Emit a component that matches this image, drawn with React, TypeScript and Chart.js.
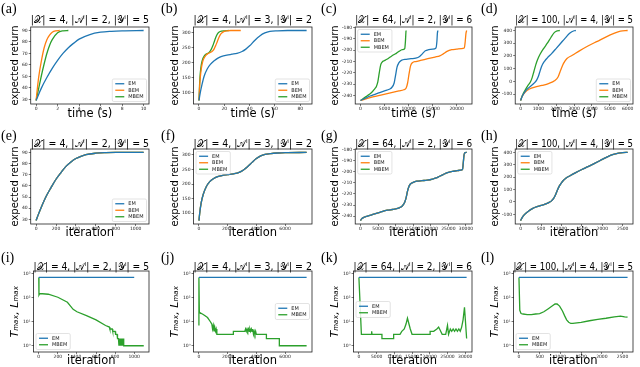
import React, { useEffect, useRef } from 'react';
import { Chart, registerables } from 'chart.js';
Chart.register(...registerables);

const C_EM = '#1f77b4';
const C_BEM = '#ff7f0e';
const C_MBEM = '#2ca02c';

const TITLE_A = '|𝒳| = 4, |𝒜ⁱ| = 2, |𝒴ⁱ| = 5';
const TITLE_B = '|𝒳| = 4, |𝒜ⁱ| = 3, |𝒴ⁱ| = 2';
const TITLE_C = '|𝒳| = 64, |𝒜ⁱ| = 2, |𝒴ⁱ| = 6';
const TITLE_D = '|𝒳| = 100, |𝒜ⁱ| = 4, |𝒴ⁱ| = 5';

// ---- (a) time ----
const A_EM_X = [0, 0.5, 1, 1.5, 2, 2.5, 3, 3.5, 4, 5, 6, 7, 8, 10];
const A_EM_Y = [29, 40, 49, 57, 64, 70, 75, 79, 82.5, 86.5, 88.5, 89.3, 89.7, 90];
const A_BEM_X = [0, 0.1, 0.25, 0.5, 0.75, 1, 1.25, 1.5, 1.8, 2.2];
const A_BEM_Y = [29, 38, 50, 64, 75, 82, 86, 88.5, 89.7, 90];
const A_MBEM_X = [0, 0.25, 0.5, 0.75, 1, 1.25, 1.5, 2, 2.5, 3.0];
const A_MBEM_Y = [29, 40, 51, 61, 70, 77, 82, 88, 89.7, 90];
// ---- (b) time ----
const B_EM_X = [0, 1, 2.5, 4, 6.5, 9, 12, 15, 18, 22, 26, 30, 34, 37, 40, 44, 48, 52, 56, 62, 70, 85];
const B_EM_Y = [75, 100, 130, 155, 180, 195, 207, 216, 222, 226, 229, 232, 238, 246, 257, 275, 290, 300, 305, 307, 308, 308];
const B_BEM_X = [0, 0.5, 1, 2, 3, 4, 5, 6, 7, 8, 9, 10, 11, 12, 13, 14, 15, 16, 17, 18, 20, 22, 25, 33];
const B_BEM_Y = [75, 120, 150, 185, 205, 216, 223, 228, 231, 233, 235, 237, 241, 247, 256, 266, 277, 287, 295, 300, 305, 307, 308, 308];
const B_MBEM_X = [0, 0.5, 1, 2, 3, 4, 5, 6, 7, 8, 9, 10, 11, 12, 13, 14, 15, 16, 18, 20, 23.5];
const B_MBEM_Y = [75, 130, 165, 198, 214, 222, 227, 230, 232, 235, 240, 248, 258, 270, 282, 292, 299, 303, 306, 307, 308];
// ---- (c) time ----
const C_EM_X = [0, 1000, 2000, 3000, 4000, 5000, 6000, 6500, 7000, 7300, 7600, 8000, 8500, 9500, 10500, 11500, 12300, 12900, 13500, 14200, 15000, 15700, 15900, 16000, 16100];
const C_EM_Y = [-244.5, -242.5, -240.5, -239, -237.5, -236, -234.5, -233, -229, -222, -215, -211, -209, -208, -207.5, -207, -205.5, -203, -200.5, -199.5, -199, -198, -192, -185, -182.5];
const C_BEM_X = [0, 2000, 4000, 6000, 8000, 9000, 9500, 9800, 10100, 10400, 10800, 11500, 12500, 14000, 15500, 16500, 17300, 18000, 19000, 20000, 21000, 21600, 21800, 21950, 22100];
const C_BEM_Y = [-244.5, -242, -240, -238, -236, -235, -233.5, -229, -221, -214, -211, -210, -209, -207.5, -206, -205, -203, -201, -199.5, -199, -198.5, -198, -192, -185, -182.5];
const C_MBEM_X = [0, 500, 1000, 1500, 2000, 2500, 3000, 3300, 3600, 3900, 4200, 4500, 4800, 5500, 6200, 6900, 7500, 8000, 8700, 9200, 9350, 9450, 9500];
const C_MBEM_Y = [-244.5, -243, -241.5, -240, -238.5, -236.5, -234, -232, -228, -220, -213, -210.5, -209.5, -208, -206, -204, -202.5, -201, -199.5, -198.5, -192, -184, -182.5];
// ---- (d) time ----
const D_EM_X = [0, 100, 250, 500, 750, 900, 1000, 1100, 1200, 1350, 1500, 1750, 2000, 2250, 2500, 2750, 3000, 3100];
const D_EM_Y = [-150, -115, -80, -45, -15, 10, 40, 85, 125, 160, 185, 220, 260, 300, 340, 378, 398, 400];
const D_BEM_X = [0, 100, 250, 500, 800, 1200, 1600, 1900, 2100, 2250, 2400, 2600, 2900, 3300, 3800, 4300, 4800, 5200, 5600, 6000];
const D_BEM_Y = [-150, -115, -85, -60, -45, -32, -15, 5, 35, 90, 140, 180, 205, 240, 280, 315, 350, 375, 395, 400];
const D_MBEM_X = [0, 100, 250, 400, 550, 650, 750, 850, 950, 1100, 1300, 1500, 1700, 1900, 2050, 2200];
const D_MBEM_Y = [-150, -110, -70, -35, -5, 30, 80, 130, 170, 215, 260, 300, 345, 385, 398, 400];
// ---- (e)-(h) iteration (all three methods coincide) ----
const E_X = [0, 25, 50, 100, 150, 200, 250, 300, 350, 400, 450, 500, 600, 700, 800, 1080];
const E_Y = [29, 35, 40.5, 50.5, 58.5, 66, 72, 77.5, 81.5, 84.5, 86.5, 88, 89.3, 89.8, 90, 90];
const F_X = [0, 50, 150, 300, 500, 750, 1000, 1300, 1600, 2000, 2400, 2800, 3100, 3400, 3700, 4000, 4300, 4600, 5000, 5500, 6000, 7500];
const F_Y = [75, 100, 135, 165, 190, 208, 218, 225, 229, 232, 235, 240, 248, 260, 274, 287, 296, 301, 304, 306, 307, 308];
const G_X = [0, 300, 1000, 2000, 3000, 4000, 5000, 6000, 7000, 8000, 9000, 10000, 11000, 11800, 12500, 13000, 13400, 13800, 14200, 15000, 16000, 17500, 19000, 20500, 21500, 22500, 23500, 24500, 25500, 26500, 27500, 28500, 29000, 29200, 29400, 29600, 30200];
const G_Y = [-244, -242.5, -241, -240, -239, -238, -237, -236, -235, -234.5, -234, -233.5, -232.5, -231, -228, -223, -217, -213, -211, -209.5, -208.5, -208, -207.5, -206.5, -205.5, -204, -202.5, -201, -200, -199.5, -199, -198.5, -198, -193, -186, -183, -182.5];
const H_X = [0, 50, 100, 200, 300, 400, 500, 600, 700, 750, 800, 850, 900, 950, 1000, 1050, 1100, 1200, 1350, 1500, 1650, 1800, 1950, 2100, 2250, 2400, 2500, 2620];
const H_Y = [-150, -120, -100, -72, -52, -38, -28, -18, -3, 7, 25, 55, 95, 130, 155, 175, 190, 210, 237, 262, 285, 310, 335, 360, 382, 395, 399, 400];
// ---- (i)-(l) Tmax, Lmax ----
const I_EM_X = [0, 1000];
const I_EM_Y = [700, 700];
const I_MBEM_X = [0, 2, 10, 100, 200, 300, 360, 400, 500, 600, 700, 740, 745, 770, 775, 800, 805, 820, 825, 835, 840, 845, 850, 855, 860, 865, 870, 875, 880, 885, 890, 1100];
const I_MBEM_Y = [700, 130, 150, 140, 105, 65, 33, 26, 18, 12, 7, 6, 5, 5, 4, 4, 3, 3, 2, 2, 1, 2, 1, 2, 1, 2, 1, 2, 1, 2, 1, 1];
const J_EM_X = [0, 7500];
const J_EM_Y = [700, 700];
const J_MBEM_X = [0, 0, 30, 60, 300, 600, 800, 900, 950, 1000, 1050, 1100, 1150, 1200, 1250, 1300, 2400, 2400, 3200, 3250, 3300, 3350, 3400, 3450, 3500, 3550, 3600, 3650, 3700, 3750, 3800, 3850, 3900, 3950, 4000, 4700, 4700, 5600, 5600, 7500];
const J_MBEM_Y = [7, 700, 25, 24, 20, 15, 10, 8, 5, 7, 4, 6, 4, 5, 3, 3, 3, 4, 4, 5, 4, 5, 4, 5, 4, 5, 4, 5, 4, 5, 3, 4, 3, 4, 3, 3, 2, 2, 1, 1];
const K_EM_X = [0, 30400];
const K_EM_Y = [700, 700];
const K_MBEM_X = [0, 700, 3500, 3600, 3700, 6500, 6500, 9800, 9800, 11600, 12100, 12800, 13300, 13700, 14500, 15000, 20100, 20100, 21100, 22000, 22500, 23500, 24500, 25000, 25300, 25800, 26200, 26600, 27000, 27400, 27800, 28200, 28600, 29000, 29400, 29800, 30400];
const K_MBEM_Y = [700, 3, 3, 4, 3, 3, 2, 2, 3, 3, 4, 5, 8, 14, 5, 3, 3, 4, 4, 5, 6, 3, 3, 7, 3, 5, 4, 5, 4, 5, 4, 5, 4, 6, 12, 40, 2];
const L_EM_X = [0, 2620];
const L_EM_Y = [700, 700];
const L_MBEM_X = [0, 20, 50, 100, 200, 300, 400, 500, 600, 700, 800, 870, 920, 980, 1050, 1100, 1150, 1200, 1250, 1300, 1400, 1500, 1700, 1900, 2100, 2300, 2450, 2550, 2620];
const L_MBEM_Y = [700, 30, 22, 21, 20, 20, 21, 22, 26, 34, 45, 55, 55, 45, 28, 18, 12, 9.5, 8.5, 8.5, 9, 9.5, 11, 12.5, 14, 16, 17, 16, 15.5];

// ---- tick labels ----
const TICKS_A_X = [0, 2, 4, 6, 8, 10];
const TICKS_A_Y = [30, 40, 50, 60, 70, 80, 90];
const TICKS_B_X = [0, 20, 40, 60, 80];
const TICKS_B_Y = [100, 150, 200, 250, 300];
const TICKS_C_X = [0, 5000, 10000, 15000, 20000];
const TICKS_C_Y = [-240, -230, -220, -210, -200, -190, -180];
const TICKS_D_X = [0, 1000, 2000, 3000, 4000, 5000, 6000];
const TICKS_D_Y = [-100, 0, 100, 200, 300, 400];
const TICKS_E_X = [0, 200, 400, 600, 800, 1000];
const TICKS_F_X = [0, 2000, 4000, 6000];
const TICKS_G_X = [0, 5000, 10000, 15000, 20000, 25000, 30000];
const TICKS_H_X = [0, 500, 1000, 1500, 2000, 2500];
const TICKS_LOG_Y = [1, 10, 100, 1000];

type Series = { label: string; color: string; x: number[]; y: number[] };
type PanelDef = {
  tag: string; row: number; col: number; title: string; xTitle: string; yTitle: string;
  log: boolean; xTicks: number[]; yTicks: number[]; series: Series[]; legend: string; smooth: boolean;
};

const s = (label: string, color: string, x: number[], y: number[]): Series => ({ label, color, x, y });
const XT = 'time (s)';
const IT = 'iteration';
const YR = 'expected return';
const YT = 'Tₘₐₓ, Lₘₐₓ';

const PANELS: PanelDef[] = [
  { tag: '(a)', row: 0, col: 0, title: TITLE_A, xTitle: XT, yTitle: YR, log: false, xTicks: TICKS_A_X, yTicks: TICKS_A_Y, legend: 'br', smooth: true,
    series: [s('EM', C_EM, A_EM_X, A_EM_Y), s('BEM', C_BEM, A_BEM_X, A_BEM_Y), s('MBEM', C_MBEM, A_MBEM_X, A_MBEM_Y)] },
  { tag: '(b)', row: 0, col: 1, title: TITLE_B, xTitle: XT, yTitle: YR, log: false, xTicks: TICKS_B_X, yTicks: TICKS_B_Y, legend: 'br', smooth: true,
    series: [s('EM', C_EM, B_EM_X, B_EM_Y), s('BEM', C_BEM, B_BEM_X, B_BEM_Y), s('MBEM', C_MBEM, B_MBEM_X, B_MBEM_Y)] },
  { tag: '(c)', row: 0, col: 2, title: TITLE_C, xTitle: XT, yTitle: YR, log: false, xTicks: TICKS_C_X, yTicks: TICKS_C_Y, legend: 'tl', smooth: true,
    series: [s('EM', C_EM, C_EM_X, C_EM_Y), s('BEM', C_BEM, C_BEM_X, C_BEM_Y), s('MBEM', C_MBEM, C_MBEM_X, C_MBEM_Y)] },
  { tag: '(d)', row: 0, col: 3, title: TITLE_D, xTitle: XT, yTitle: YR, log: false, xTicks: TICKS_D_X, yTicks: TICKS_D_Y, legend: 'br', smooth: true,
    series: [s('EM', C_EM, D_EM_X, D_EM_Y), s('BEM', C_BEM, D_BEM_X, D_BEM_Y), s('MBEM', C_MBEM, D_MBEM_X, D_MBEM_Y)] },
  { tag: '(e)', row: 1, col: 0, title: TITLE_A, xTitle: IT, yTitle: YR, log: false, xTicks: TICKS_E_X, yTicks: TICKS_A_Y, legend: 'br', smooth: true,
    series: [s('EM', C_EM, E_X, E_Y), s('BEM', C_BEM, E_X, E_Y), s('MBEM', C_MBEM, E_X, E_Y)] },
  { tag: '(f)', row: 1, col: 1, title: TITLE_B, xTitle: IT, yTitle: YR, log: false, xTicks: TICKS_F_X, yTicks: TICKS_B_Y, legend: 'tl', smooth: true,
    series: [s('EM', C_EM, F_X, F_Y), s('BEM', C_BEM, F_X, F_Y), s('MBEM', C_MBEM, F_X, F_Y)] },
  { tag: '(g)', row: 1, col: 2, title: TITLE_C, xTitle: IT, yTitle: YR, log: false, xTicks: TICKS_G_X, yTicks: TICKS_C_Y, legend: 'tl', smooth: true,
    series: [s('EM', C_EM, G_X, G_Y), s('BEM', C_BEM, G_X, G_Y), s('MBEM', C_MBEM, G_X, G_Y)] },
  { tag: '(h)', row: 1, col: 3, title: TITLE_D, xTitle: IT, yTitle: YR, log: false, xTicks: TICKS_H_X, yTicks: TICKS_D_Y, legend: 'tl', smooth: true,
    series: [s('EM', C_EM, H_X, H_Y), s('BEM', C_BEM, H_X, H_Y), s('MBEM', C_MBEM, H_X, H_Y)] },
  { tag: '(i)', row: 2, col: 0, title: TITLE_A, xTitle: IT, yTitle: YT, log: true, xTicks: TICKS_E_X, yTicks: TICKS_LOG_Y, legend: 'bl', smooth: false,
    series: [s('EM', C_EM, I_EM_X, I_EM_Y), s('MBEM', C_MBEM, I_MBEM_X, I_MBEM_Y)] },
  { tag: '(j)', row: 2, col: 1, title: TITLE_B, xTitle: IT, yTitle: YT, log: true, xTicks: TICKS_F_X, yTicks: TICKS_LOG_Y, legend: 'r', smooth: false,
    series: [s('EM', C_EM, J_EM_X, J_EM_Y), s('MBEM', C_MBEM, J_MBEM_X, J_MBEM_Y)] },
  { tag: '(k)', row: 2, col: 2, title: TITLE_C, xTitle: IT, yTitle: YT, log: true, xTicks: TICKS_G_X, yTicks: TICKS_LOG_Y, legend: 'l', smooth: false,
    series: [s('EM', C_EM, K_EM_X, K_EM_Y), s('MBEM', C_MBEM, K_MBEM_X, K_MBEM_Y)] },
  { tag: '(l)', row: 2, col: 3, title: TITLE_D, xTitle: IT, yTitle: YT, log: true, xTicks: TICKS_H_X, yTicks: TICKS_LOG_Y, legend: 'bl', smooth: false,
    series: [s('EM', C_EM, L_EM_X, L_EM_Y), s('MBEM', C_MBEM, L_MBEM_X, L_MBEM_Y)] },
];

const ROWS = [
  { top: 0, h: 120, titlePt: 14, titlePb: 1, tagY: 2, xPadTop: -3 },
  { top: 120, h: 119, titlePt: 18, titlePb: -1, tagY: 9, xPadTop: -4 },
  { top: 240, h: 127, titlePt: 21, titlePb: -2, tagY: 11, xPadTop: -4 },
];
const COL_LEFT = [0, 160, 320, 480];
const COL_PAD_R = [11, 8, 8, 7];
const SUP = ['⁰', '¹', '²', '³'];
const FONT = 'DejaVu Sans';

const framePlugin = {
  id: 'frame',
  afterDatasetsDraw(chart: any) {
    const { ctx, chartArea: a } = chart;
    ctx.save();
    ctx.strokeStyle = '#222';
    ctx.lineWidth = 0.8;
    ctx.strokeRect(a.left, a.top, a.right - a.left, a.bottom - a.top);
    ctx.restore();
  },
};

const tagPlugin = {
  id: 'tag',
  afterDraw(chart: any, _args: any, opts: any) {
    const { ctx } = chart;
    ctx.save();
    ctx.font = '14px "Liberation Serif"';
    ctx.fillStyle = '#000';
    ctx.textBaseline = 'top';
    ctx.fillText(opts.text, 1, opts.y);
    ctx.restore();
  },
};

const legendPlugin = {
  id: 'innerLegend',
  afterDraw(chart: any, _args: any, opts: any) {
    const { ctx, chartArea: a } = chart;
    const items = chart.data.datasets.map((d: any) => ({ label: d.label, color: d.borderColor }));
    ctx.save();
    ctx.font = `5px "${FONT}"`;
    const rowH = 6.5;
    const lineLen = 9;
    const textW = Math.max(...items.map((i: any) => ctx.measureText(i.label).width));
    const w = 3 + lineLen + 4 + textW + 3;
    const h = items.length * rowH + 3;
    const inset = 2.5;
    let x = a.left + inset;
    let y = a.top + inset;
    const pos = opts.pos;
    if (pos === 'br') { x = a.right - inset - w; y = a.bottom - inset - h; }
    if (pos === 'bl') { x = a.left + inset; y = a.bottom - inset - h; }
    if (pos === 'r') { x = a.right - inset - w; y = (a.top + a.bottom) / 2 - h / 2; }
    if (pos === 'l') { x = a.left + inset; y = (a.top + a.bottom) / 2 - h / 2 - 2; }
    ctx.fillStyle = 'rgba(255,255,255,0.85)';
    ctx.strokeStyle = '#d0d0d0';
    ctx.lineWidth = 0.6;
    ctx.beginPath();
    ctx.roundRect(x, y, w, h, 1.5);
    ctx.fill();
    ctx.stroke();
    items.forEach((it: any, i: number) => {
      const cy = y + 1.5 + rowH * (i + 0.5);
      ctx.strokeStyle = it.color;
      ctx.lineWidth = 1.3;
      ctx.beginPath();
      ctx.moveTo(x + 3, cy);
      ctx.lineTo(x + 3 + lineLen, cy);
      ctx.stroke();
      ctx.fillStyle = '#222';
      ctx.textBaseline = 'middle';
      ctx.fillText(it.label, x + 3 + lineLen + 4, cy + 0.3);
    });
    ctx.restore();
  },
};

function buildConfig(p: PanelDef): any {
  const row = ROWS[p.row];
  const allX = p.series.flatMap((q) => q.x);
  const xmin = Math.min(...allX);
  const xmax = Math.max(...allX);
  const xr = xmax - xmin;
  let ymin: number, ymax: number;
  if (p.log) {
    ymin = 0.55;
    ymax = 1300;
  } else {
    const allY = p.series.flatMap((q) => q.y);
    const a = Math.min(...allY);
    const b = Math.max(...allY);
    ymin = a - 0.05 * (b - a);
    ymax = b + 0.05 * (b - a);
  }
  const tickFont = { family: FONT, size: 4.5, lineHeight: 1 };
  const grid = { display: true, drawOnChartArea: false, drawTicks: true, tickLength: 2, color: '#222', lineWidth: 0.6 };
  return {
    type: 'line',
    data: {
      datasets: p.series.map((q) => ({
        label: q.label,
        data: q.x.map((v, i) => ({ x: v, y: q.y[i] })),
        borderColor: q.color,
        backgroundColor: q.color,
        borderWidth: 1.3,
        pointRadius: 0,
        fill: false,
        tension: p.smooth ? 0.4 : 0,
        cubicInterpolationMode: p.smooth ? 'monotone' : 'default',
      })),
    },
    options: {
      responsive: false,
      animation: false,
      devicePixelRatio: 1,
      events: [],
      layout: { padding: { left: 9, right: COL_PAD_R[p.col], top: 0, bottom: 0 } },
      plugins: {
        legend: { display: false },
        tooltip: { enabled: false },
        title: {
          display: true,
          fullSize: false,
          text: p.title,
          color: '#000',
          font: { family: FONT, size: 10, weight: 'normal', lineHeight: 1.2 },
          padding: { top: row.titlePt, bottom: row.titlePb },
        },
        tag: { text: p.tag, y: row.tagY },
        innerLegend: { pos: p.legend },
      },
      scales: {
        x: {
          type: 'linear',
          min: xmin - 0.05 * xr,
          max: xmax + 0.05 * xr,
          afterBuildTicks: (sc: any) => { sc.ticks = p.xTicks.map((v) => ({ value: v })); },
          ticks: { font: tickFont, color: '#222', padding: 0.5, maxRotation: 0, autoSkip: false, callback: (v: any) => String(v) },
          grid,
          border: { display: false },
          title: { display: true, text: p.xTitle, color: '#000', font: { family: FONT, size: 11.5, lineHeight: 1 }, padding: { top: row.xPadTop, bottom: 0 } },
        },
        y: {
          type: p.log ? 'logarithmic' : 'linear',
          min: ymin,
          max: ymax,
          afterBuildTicks: (sc: any) => { sc.ticks = p.yTicks.map((v) => ({ value: v })); },
          ticks: {
            font: tickFont, color: '#222', padding: 1, autoSkip: false,
            callback: (v: any) => (p.log ? '10' + SUP[Math.round(Math.log10(v))] : String(v)),
          },
          grid,
          border: { display: false },
          title: {
            display: true, text: p.yTitle, color: '#000',
            font: { family: FONT, size: p.log ? 11 : 10, lineHeight: 1, style: p.log ? 'italic' : 'normal' },
            padding: { top: 1, bottom: 1 },
          },
        },
      },
    },
    plugins: [framePlugin, tagPlugin, legendPlugin],
  };
}

function Panel({ p }: { p: PanelDef }) {
  const ref = useRef<HTMLCanvasElement | null>(null);
  const row = ROWS[p.row];
  useEffect(() => {
    if (!ref.current) return;
    const chart = new Chart(ref.current, buildConfig(p));
    return () => chart.destroy();
  }, [p]);
  return (
    <canvas
      ref={ref}
      width={160}
      height={row.h}
      style={{ position: 'absolute', left: COL_LEFT[p.col], top: row.top, width: 160, height: row.h }}
    />
  );
}

export default function App() {
  return (
    <div style={{ position: 'absolute', left: 0, top: 0, width: 640, height: 367, background: '#fff', overflow: 'hidden' }}>
      {PANELS.map((p) => (
        <Panel key={p.tag} p={p} />
      ))}
    </div>
  );
}
